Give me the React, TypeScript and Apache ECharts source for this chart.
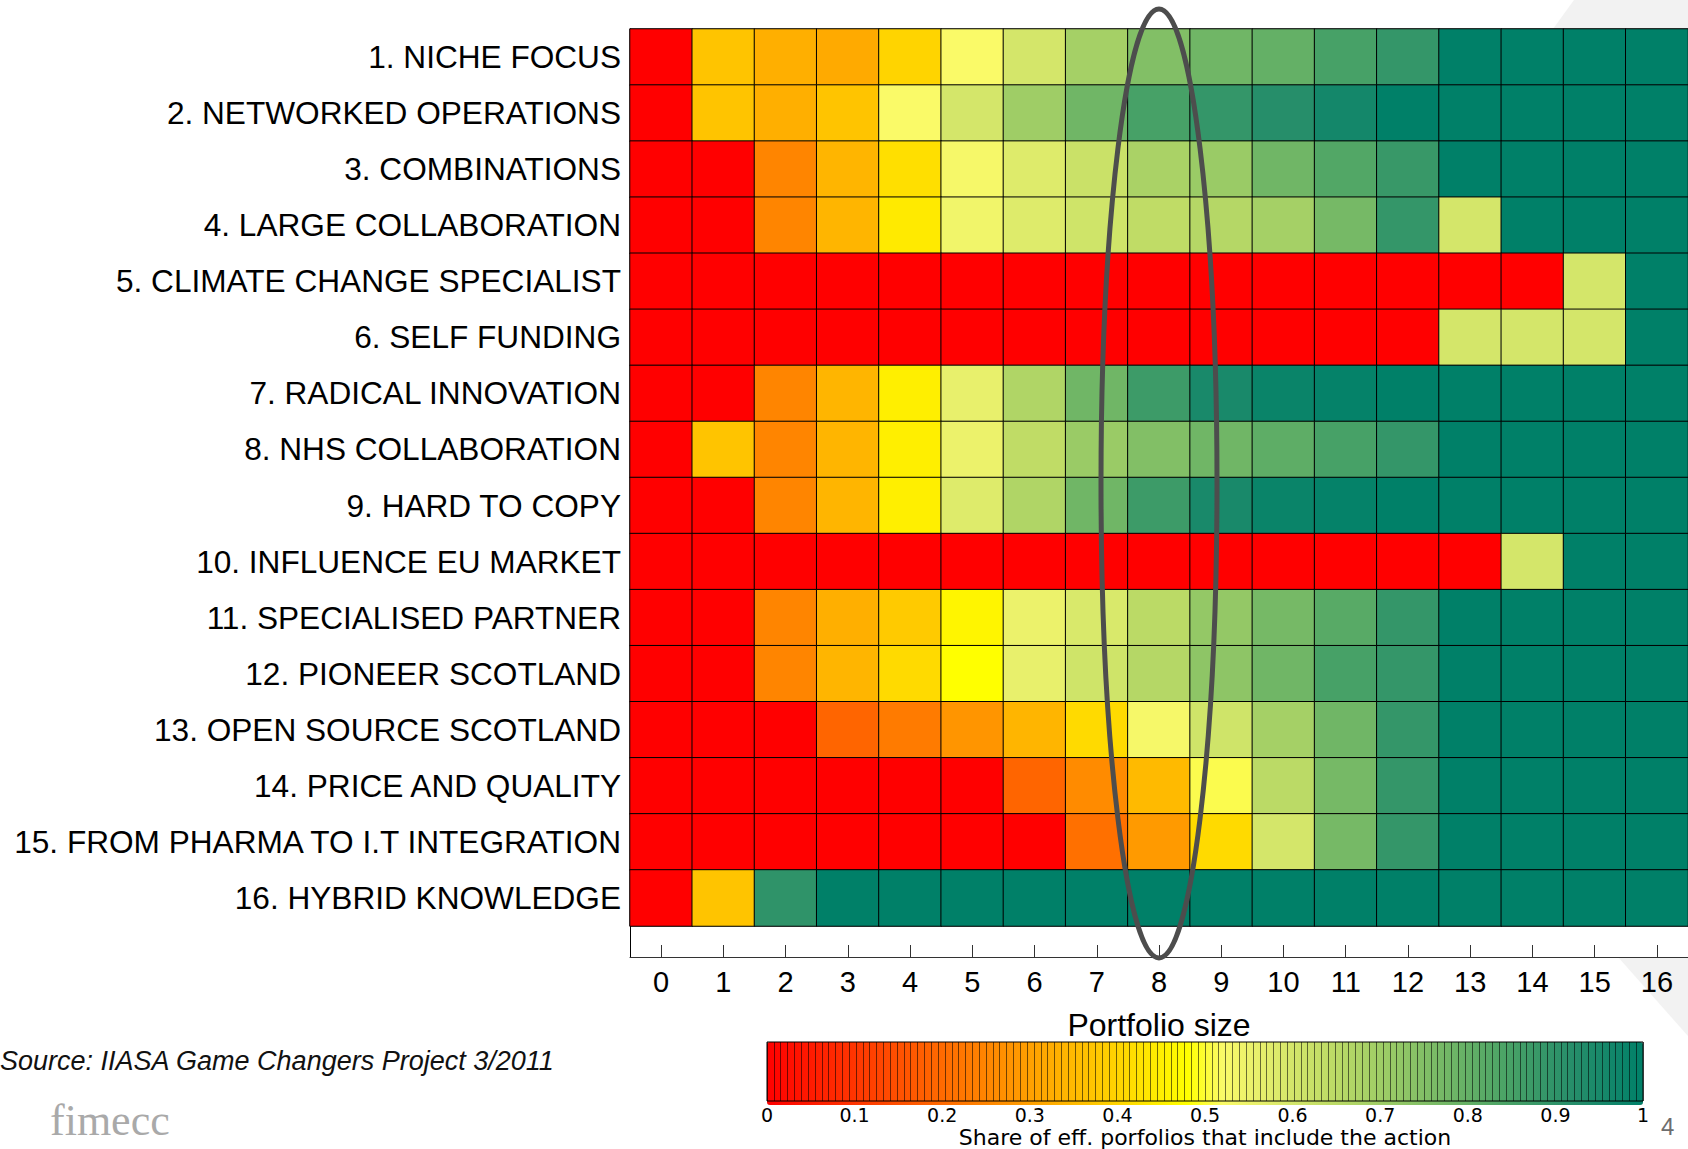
import React, { useEffect, useRef } from "react";
import * as echarts from "echarts";

// ---------- data ----------
const PORTFOLIO_SIZES = ["0","1","2","3","4","5","6","7","8","9","10","11","12","13","14","15","16"];

const ACTION_LABELS = [
  "1. NICHE FOCUS",
  "2. NETWORKED OPERATIONS",
  "3. COMBINATIONS",
  "4. LARGE COLLABORATION",
  "5. CLIMATE CHANGE SPECIALIST",
  "6. SELF FUNDING",
  "7. RADICAL INNOVATION",
  "8. NHS COLLABORATION",
  "9. HARD TO COPY",
  "10. INFLUENCE EU MARKET",
  "11. SPECIALISED PARTNER",
  "12. PIONEER SCOTLAND",
  "13. OPEN SOURCE SCOTLAND",
  "14. PRICE AND QUALITY",
  "15. FROM PHARMA TO I.T INTEGRATION",
  "16. HYBRID KNOWLEDGE",
];

// share of efficient portfolios that include the action, per portfolio size 0..16
const nicheFocus          = [0, 0.37, 0.33, 0.32, 0.40, 0.52, 0.60, 0.69, 0.75, 0.78, 0.80, 0.85, 0.89, 1, 1, 1, 1];
const networkedOperations = [0, 0.37, 0.33, 0.37, 0.52, 0.60, 0.70, 0.78, 0.85, 0.89, 0.92, 0.96, 1, 1, 1, 1, 1];
const combinations        = [0, 0, 0.25, 0.34, 0.42, 0.53, 0.58, 0.62, 0.68, 0.71, 0.78, 0.83, 0.88, 1, 1, 1, 1];
const largeCollaboration  = [0, 0, 0.25, 0.34, 0.44, 0.54, 0.58, 0.61, 0.64, 0.66, 0.69, 0.77, 0.89, 0.60, 1, 1, 1];
const climateSpecialist   = [0, 0, 0, 0, 0, 0, 0, 0, 0, 0, 0, 0, 0, 0, 0, 0.60, 1];
const selfFunding         = [0, 0, 0, 0, 0, 0, 0, 0, 0, 0, 0, 0, 0, 0.60, 0.60, 0.60, 1];
const radicalInnovation   = [0, 0, 0.25, 0.34, 0.45, 0.56, 0.67, 0.78, 0.87, 0.95, 0.98, 0.99, 1, 1, 1, 1, 1];
const nhsCollaboration    = [0, 0.37, 0.25, 0.34, 0.45, 0.55, 0.64, 0.71, 0.75, 0.78, 0.81, 0.85, 0.89, 1, 1, 1, 1];
const hardToCopy          = [0, 0, 0.25, 0.34, 0.45, 0.58, 0.67, 0.78, 0.87, 0.95, 0.98, 0.99, 1, 1, 1, 1, 1];
const influenceEuMarket   = [0, 0, 0, 0, 0, 0, 0, 0, 0, 0, 0, 0, 0, 0, 0.60, 1, 1];
const specialisedPartner  = [0, 0, 0.25, 0.33, 0.38, 0.46, 0.55, 0.59, 0.65, 0.72, 0.77, 0.82, 0.89, 1, 1, 1, 1];
const pioneerScotland     = [0, 0, 0.25, 0.34, 0.41, 0.48, 0.56, 0.61, 0.66, 0.73, 0.78, 0.85, 0.89, 1, 1, 1, 1];
const openSourceScotland  = [0, 0, 0, 0.19, 0.23, 0.28, 0.34, 0.41, 0.53, 0.61, 0.69, 0.78, 0.89, 1, 1, 1, 1];
const priceAndQuality     = [0, 0, 0, 0, 0, 0, 0.19, 0.26, 0.35, 0.51, 0.65, 0.77, 0.89, 1, 1, 1, 1];
const pharmaToIt          = [0, 0, 0, 0, 0, 0, 0, 0.21, 0.29, 0.41, 0.60, 0.77, 0.89, 1, 1, 1, 1];
const hybridKnowledge     = [0, 0.37, 0.90, 1, 1, 1, 1, 1, 1, 1, 1, 1, 1, 1, 1, 1, 1];

const ROWS = [
  nicheFocus, networkedOperations, combinations, largeCollaboration,
  climateSpecialist, selfFunding, radicalInnovation, nhsCollaboration,
  hardToCopy, influenceEuMarket, specialisedPartner, pioneerScotland,
  openSourceScotland, priceAndQuality, pharmaToIt, hybridKnowledge,
];

const COLORBAR_TICKS = [0, 0.1, 0.2, 0.3, 0.4, 0.5, 0.6, 0.7, 0.8, 0.9, 1];

// colormap stops, evenly spaced every 0.04 from 0 to 1
const COLORMAP = [
  "#FF0000", "#FF1500", "#FF2A00", "#FF4000", "#FF5500", "#FF6A00", "#FF8000",
  "#FF9500", "#FFAA00", "#FFBF00", "#FFD400", "#FFEA00", "#FFFF00",
  "#FAFA68", "#E8F06C", "#D4E66A", "#C0DC66", "#AAD266", "#94C866",
  "#7CBC66", "#64B066", "#4CA466", "#389868", "#268E6A", "#14876A", "#008068",
];

const FONT = "'Liberation Sans', Arial, sans-serif";
const WIDE = "'DejaVu Sans', sans-serif";

export default function App() {
  const ref = useRef<HTMLDivElement>(null);

  useEffect(() => {
    document.body.style.margin = "0";
    if (!ref.current) return;
    const chart = echarts.init(ref.current, null, { renderer: "svg" });

    const cells: number[][] = [];
    ROWS.forEach((row, r) => row.forEach((v, c) => cells.push([c, r, v])));

    chart.setOption({
      animation: false,
      backgroundColor: "#ffffff",
      grid: [
        { left: 630, top: 29, right: 0, height: 897, show: true, borderColor: "#8a8a8a", borderWidth: 1, containLabel: false },
        { left: 767, top: 1042, width: 876, height: 63, show: true, borderColor: "#000", borderWidth: 1, z: 10, containLabel: false },
        { left: 630, top: 926, right: 0, height: 31, show: false, containLabel: false },
      ],
      xAxis: [
        { gridIndex: 0, type: "category", data: PORTFOLIO_SIZES, show: false },
        {
          gridIndex: 1, type: "value", min: 0, max: 1, interval: 1 / 128, position: "top", z: 10,
          axisLine: { show: false }, axisTick: { show: false }, axisLabel: { show: false },
          splitLine: { show: true, lineStyle: { color: "#000", width: 1, opacity: 0.55 } },
        },
        {
          gridIndex: 1, type: "value", min: 0, max: 1, interval: 0.1, position: "bottom", z: 10,
          axisLine: { show: false }, axisTick: { show: false }, splitLine: { show: false },
          axisLabel: {
            fontFamily: WIDE, fontSize: 19, color: "#000", margin: 4,
            formatter: (v: number) => {
              const t = COLORBAR_TICKS.find((k) => Math.abs(k - v) < 1e-6);
              return t === undefined ? "" : String(t);
            },
          },
          name: "Share of eff. porfolios that include the action",
          nameLocation: "middle", nameGap: 25,
          nameTextStyle: { fontFamily: WIDE, fontSize: 22, color: "#000" },
        },
        {
          gridIndex: 2, type: "category", data: PORTFOLIO_SIZES, position: "bottom",
          axisLine: { show: true, lineStyle: { color: "#333", width: 1 } },
          axisTick: { show: true, inside: true, alignWithLabel: true, length: 12, lineStyle: { color: "#333" } },
          axisLabel: { fontFamily: FONT, fontSize: 29, color: "#000", margin: 10 },
          name: "Portfolio size", nameLocation: "middle", nameGap: 52,
          nameTextStyle: { fontFamily: FONT, fontSize: 32, color: "#000" },
        },
      ],
      yAxis: [
        {
          gridIndex: 0, type: "category", data: ACTION_LABELS, inverse: true,
          axisLine: { show: true, lineStyle: { color: "#000", width: 1 } },
          axisTick: { show: false },
          axisLabel: { fontFamily: FONT, fontSize: 31.6, color: "#000", margin: 9 },
        },
        { gridIndex: 1, type: "value", min: 0, max: 1, show: false },
        {
          gridIndex: 2, type: "value", min: 0, max: 1,
          axisLine: { show: true, lineStyle: { color: "#000", width: 1 } },
          axisTick: { show: false }, axisLabel: { show: false }, splitLine: { show: false },
        },
      ],
      visualMap: {
        type: "continuous", min: 0, max: 1, seriesIndex: 0, dimension: 2,
        orient: "horizontal", left: 767, top: 1042, itemWidth: 63, itemHeight: 876,
        padding: 0, calculable: false, hoverLink: false, z: 1,
        inRange: { color: COLORMAP },
        textStyle: { color: "transparent" },
      },
      series: [
        {
          type: "heatmap", xAxisIndex: 0, yAxisIndex: 0, data: cells,
          itemStyle: { borderColor: "#000", borderWidth: 1 },
          emphasis: { disabled: true },
          label: { show: false },
        },
      ],
      graphic: [
        { type: "polygon", z: -5, silent: true, shape: { points: [[1553, 29], [1574, 0], [1688, 0], [1688, 29]] }, style: { fill: "#F2F2F2" } },
        { type: "polygon", z: -5, silent: true, shape: { points: [[1618, 957], [1688, 957], [1688, 1036]] }, style: { fill: "#F2F2F2" } },
        {
          type: "text", left: 0, top: 1047,
          style: { text: "Source: IIASA Game Changers Project 3/2011", fontFamily: FONT, fontStyle: "italic", fontSize: 27, fill: "#111" },
        },
        {
          type: "text", left: 50, top: 1098,
          style: { text: "fimecc", fontFamily: "'Liberation Serif', serif", fontSize: 44, fill: "#A9A9A9" },
        },
        {
          type: "text", left: 1661, top: 1114,
          style: { text: "4", fontFamily: FONT, fontSize: 24, fill: "#6d6d6d" },
        },
      ],
    });

    // highlight ellipse around portfolio size 8
    const cx = chart.convertToPixel({ xAxisIndex: 0 }, 8) as unknown as number;
    chart.setOption({
      graphic: [
        {
          type: "ellipse", id: "ring", silent: true, z: 50,
          shape: { cx: typeof cx === "number" ? cx : 1160, cy: 483.5, rx: 58, ry: 474.5 },
          style: { fill: "none", stroke: "#4D4D4D", lineWidth: 5 },
        },
      ],
    });

    return () => chart.dispose();
  }, []);

  return <div ref={ref} style={{ width: 1688, height: 1149 }} />;
}
